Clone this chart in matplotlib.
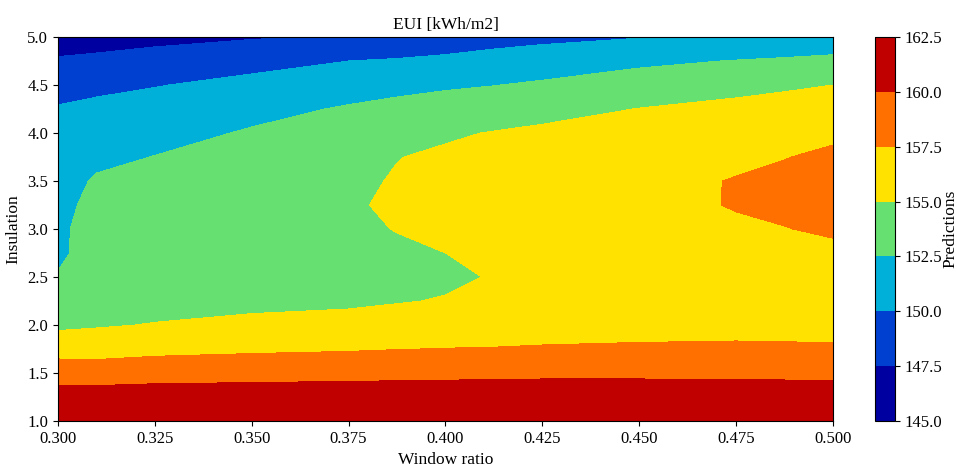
import matplotlib
matplotlib.use("Agg")
import matplotlib.pyplot as plt
import numpy as np

# grid (window ratio x insulation)
window_ratio = [0.300, 0.310, 0.325, 0.350, 0.375, 0.3875, 0.400, 0.4125,
                0.425, 0.450, 0.475, 0.4875, 0.500]
insulation = [1.0, 1.25, 1.5, 1.75, 2.0, 2.25, 2.5, 2.75, 3.0, 3.25, 3.5, 3.75, 4.0, 4.25, 4.5, 4.75, 5.0]

# predicted EUI, one list per window ratio column (bottom -> top)
eui_030 = [162.3, 161.0, 158.9, 156.5, 154.55, 153.4, 152.6, 152.2, 152.2, 152.0, 151.6, 151.0, 150.6, 150.2, 149.0, 147.7, 146.6]
eui_031 = [162.3, 161.0, 158.9, 156.4, 154.8, 153.9, 153.3, 153.2, 153.15, 153.0, 152.75, 152.0, 151.3, 150.5, 149.5, 147.8, 146.9]
eui_0325 = [162.3, 161.1, 159.1, 156.8, 155.1, 154.2, 153.7, 153.5, 153.5, 153.4, 153.1, 152.55, 151.8, 150.9, 149.9, 148.5, 146.8]
eui_035 = [162.4, 161.2, 159.2, 157.1, 155.45, 154.5, 154.1, 153.95, 153.9, 153.8, 153.6, 153.2, 152.7, 151.9, 150.6, 149.3, 147.3]
eui_0375 = [162.4, 161.3, 159.3, 157.3, 155.6, 154.7, 154.45, 154.5, 154.7, 154.85, 154.6, 154.1, 153.5, 152.7, 151.6, 150.0, 147.65]
eui_03875 = [162.4, 161.35, 159.35, 157.45, 155.8, 154.9, 154.55, 154.75, 155.05, 155.2, 155.15, 154.95, 154.2, 153.1, 151.9, 150.2, 148.3]
eui_040 = [162.4, 161.4, 159.4, 157.55, 156.0, 155.1, 154.7, 155.0, 155.4, 155.55, 155.45, 155.3, 154.75, 153.5, 152.2, 150.4, 148.9]
eui_04125 = [162.4, 161.45, 159.45, 157.6, 156.25, 155.45, 155.1, 155.3, 155.65, 155.8, 155.7, 155.5, 155.1, 153.9, 152.45, 150.85, 149.15]
eui_0425 = [162.4, 161.5, 159.5, 157.7, 156.5, 155.8, 155.5, 155.6, 155.9, 156.1, 156.0, 155.7, 155.4, 154.3, 152.8, 151.3, 149.4]
eui_045 = [162.4, 161.5, 159.5, 157.8, 156.7, 156.1, 156.0, 156.3, 156.7, 156.95, 156.9, 156.6, 156.0, 155.05, 153.7, 152.0, 149.9]
eui_0475 = [162.4, 161.5, 159.45, 157.85, 156.8, 156.4, 156.4, 156.8, 157.25, 157.6, 157.6, 157.1, 156.5, 155.6, 154.3, 152.6, 150.05]
eui_04875 = [162.4, 161.45, 159.4, 157.8, 156.8, 156.45, 156.5, 156.95, 157.45, 157.85, 157.85, 157.45, 156.85, 155.9, 154.65, 152.85, 150.4]
eui_050 = [162.4, 161.4, 159.4, 157.75, 156.8, 156.5, 156.6, 157.1, 157.75, 158.1, 158.1, 157.8, 157.2, 156.2, 155.0, 153.1, 150.8]

levels = [145.0, 147.5, 150.0, 152.5, 155.0, 157.5, 160.0, 162.5]
colors = ["#0000a0", "#0040d0", "#00b0d8", "#66e070", "#ffe200", "#ff7000", "#c00000"]

plt.rcParams["font.family"] = ["Liberation Serif", "DejaVu Serif"]
plt.rcParams["font.size"] = 12

columns = [eui_030, eui_031, eui_0325, eui_035, eui_0375, eui_03875, eui_040,
           eui_04125, eui_0425, eui_045, eui_0475, eui_04875, eui_050]
Z = np.array(columns).T
X, Y = np.meshgrid(window_ratio, insulation)

fig = plt.figure(figsize=(9.57, 4.73), dpi=100)
ax = fig.add_axes([0.0606, 0.110, 0.8098, 0.8118])
cax = fig.add_axes([0.9144, 0.110, 0.0209, 0.8118])

cs = ax.contourf(X, Y, Z, levels=levels, colors=colors)
ax.set_xlim(0.3, 0.5)
ax.set_ylim(1.0, 5.0)
ax.set_xticks(np.arange(0.3, 0.5001, 0.025))
ax.set_yticks(np.arange(1.0, 5.001, 0.5))
ax.xaxis.set_major_formatter(matplotlib.ticker.FormatStrFormatter("%.3f"))
ax.yaxis.set_major_formatter(matplotlib.ticker.FormatStrFormatter("%.1f"))
ax.tick_params(labelsize=12)
ax.set_title("EUI [kWh/m2]", fontsize=12.5)
ax.set_xlabel("Window ratio", fontsize=12.5)
ax.set_ylabel("Insulation", fontsize=12.5)

cb = fig.colorbar(cs, cax=cax)
cb.set_ticks(levels)
cb.ax.yaxis.set_major_formatter(matplotlib.ticker.FormatStrFormatter("%.1f"))
cb.ax.tick_params(labelsize=12)
cb.set_label("Predictions", fontsize=12.5, labelpad=0)

fig.savefig("out.png", dpi=100)
